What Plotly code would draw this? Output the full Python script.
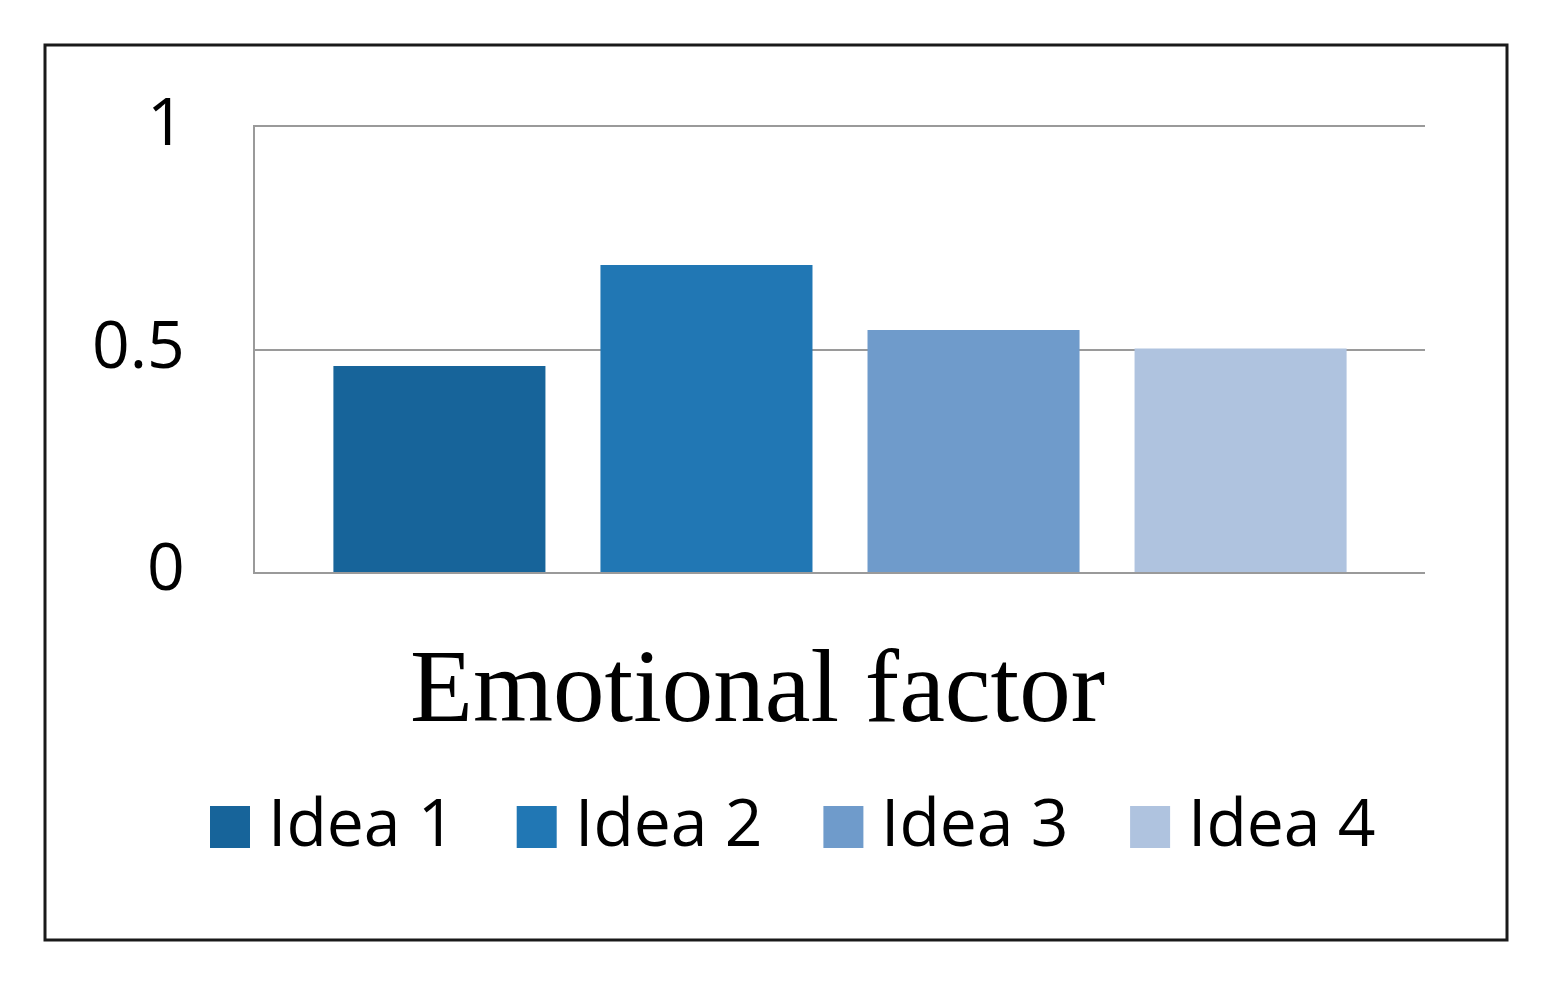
import plotly.graph_objects as go

categories = ["Emotional factor"]
series_names = ["Idea 1", "Idea 2", "Idea 3", "Idea 4"]
values = [0.463, 0.69, 0.544, 0.502]
colors = ["#17649a", "#2177b4", "#6f9bcb", "#afc3df"]
ytick_vals = [0, 0.5, 1]
ytick_text = ["0", "0.5", "1"]

OFF = 8  # page body margin
W, H = 1546 - 2 * OFF, 986 - 2 * OFF
# plot area in screen pixels
SL, SR, ST, SB = 255, 1425, 127, 572
L, R, T, B = SL - OFF, SR - OFF, ST - OFF, SB - OFF


def px_x(p):
    return (p - SL) / (SR - SL)


def px_y(p):
    return (SB - p) / (SB - ST)


fig = go.Figure()
for name, v, c in zip(series_names, values, colors):
    fig.add_trace(go.Bar(x=categories, y=[v], name=name, marker=dict(color=c, line=dict(width=0)),
                         showlegend=False))

shapes = [
    dict(type="rect", xref="paper", yref="paper", x0=px_x(45), x1=px_x(1507), y0=px_y(940), y1=px_y(45),
         line=dict(color="#1a1a1a", width=3), fillcolor="rgba(0,0,0,0)", layer="below"),
]
annotations = [
    dict(xref="paper", yref="paper", x=px_x(757), y=px_y(686), text=categories[0], showarrow=False,
         xanchor="center", yanchor="middle",
         font=dict(family="Liberation Serif, Times New Roman, serif", size=103, color="#000000")),
]

# manual legend
leg_start = 210
leg_step = 306.7
for i, (name, c) in enumerate(zip(series_names, colors)):
    sx = leg_start + i * leg_step
    shapes.append(dict(type="rect", xref="paper", yref="paper", x0=px_x(sx), x1=px_x(sx + 40),
                       y0=px_y(848), y1=px_y(806), fillcolor=c, line=dict(width=0)))
    annotations.append(dict(xref="paper", yref="paper", x=px_x(sx + 56), y=px_y(820), text=name,
                            showarrow=False, xanchor="left", yanchor="middle",
                            font=dict(family="Open Sans, sans-serif", size=66, color="#000000")))

fig.update_layout(
    width=W, height=H, autosize=False,
    margin=dict(l=L, r=W - R, t=T, b=H - B, pad=0),
    paper_bgcolor="white", plot_bgcolor="white",
    barmode="group", bargap=0.087, bargroupgap=0.206,
    showlegend=False,
    shapes=shapes, annotations=annotations,
    xaxis=dict(showticklabels=False, showgrid=False, zeroline=False, showline=True, mirror=True,
               linecolor="#9a9a9a", linewidth=2, ticks="", fixedrange=True),
    yaxis=dict(range=[0, 1], tickvals=ytick_vals, ticktext=ytick_text, showgrid=True,
               gridcolor="#9a9a9a", gridwidth=2, zeroline=False, showline=True,
               linecolor="#9a9a9a", linewidth=2, ticks="", ticklabelstandoff=55, ticklabelshift=-5,
               tickfont=dict(family="Open Sans, sans-serif", size=66, color="#000000")),
)

fig.write_html("out.html")
